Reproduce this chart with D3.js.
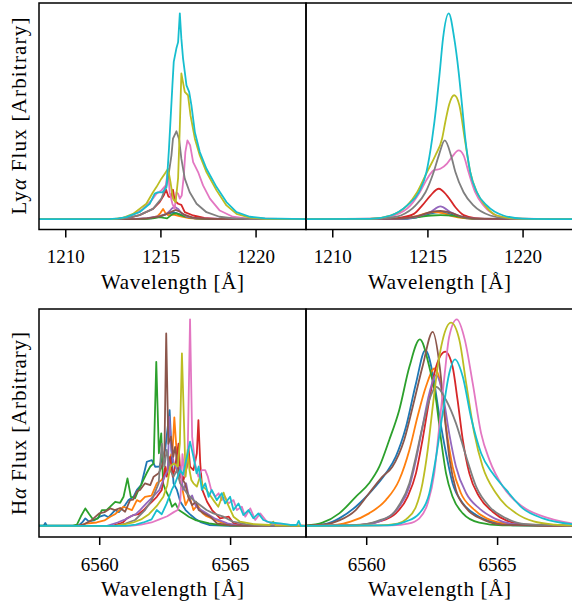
<!DOCTYPE html>
<html>
<head>
<meta charset="utf-8">
<script src="https://cdn.jsdelivr.net/npm/d3@7"></script>
<style>
  html, body { margin: 0; padding: 0; background: #fff; }
  svg { display: block; }
  svg text { font-family: "Liberation Serif", "DejaVu Serif", "Times New Roman", serif !important; fill: #000; }
</style>
</head>
<body>
<svg id="chart" width="572" height="601"></svg>
<script>
// ---------------- DATA ----------------
const seriesColors = ["#1f77b4","#ff7f0e","#2ca02c","#d62728","#9467bd","#8c564b","#e377c2","#7f7f7f","#bcbd22","#17becf"];

const lyaTicks = [1210, 1215, 1220];
const lyaRange = [1208.62, 1222.65];
const haTicks = [6560, 6565];
const haRange = [6557.7, 6567.9];

// ---- Top-left: Ly-alpha (jagged) ----
const lyaA_blue   = [[1208.6,0],[1213.8,0],[1214.5,0.004],[1215.0,0.014],[1215.35,0.026],[1215.7,0.033],[1216.0,0.025],[1216.4,0.01],[1216.9,0.003],[1222.7,0]];
const lyaA_orange = [[1208.6,0],[1213.8,0],[1214.5,0.005],[1214.85,0.015],[1215.0,0.03],[1215.14,0.05],[1215.25,0.032],[1215.4,0.02],[1215.7,0.022],[1216.0,0.015],[1216.5,0.005],[1217.2,0.001],[1222.7,0]];
const lyaA_green  = [[1208.6,0],[1214.0,0],[1214.6,0.004],[1214.96,0.01],[1215.2,0.006],[1215.35,0.004],[1215.5,0.015],[1215.66,0.026],[1215.84,0.028],[1216.0,0.022],[1216.3,0.012],[1216.8,0.004],[1217.5,0.001],[1222.7,0]];
const lyaA_red    = [[1208.6,0],[1212.8,0],[1213.3,0.005],[1213.9,0.02],[1214.61,0.05],[1214.96,0.083],[1215.17,0.115],[1215.3,0.143],[1215.42,0.11],[1215.54,0.107],[1215.66,0.143],[1215.75,0.09],[1215.93,0.075],[1216.1,0.07],[1216.28,0.034],[1216.72,0.018],[1217.3,0.006],[1218.0,0.001],[1222.7,0]];
const lyaA_purple = [[1208.6,0],[1213.5,0],[1214.3,0.005],[1214.96,0.015],[1215.32,0.026],[1215.49,0.04],[1215.6,0.052],[1215.75,0.06],[1215.93,0.05],[1216.1,0.03],[1216.4,0.012],[1216.9,0.004],[1222.7,0]];
const lyaA_brown  = [[1208.6,0],[1213.6,0],[1214.3,0.004],[1214.9,0.012],[1215.3,0.025],[1215.55,0.035],[1215.8,0.045],[1216.0,0.038],[1216.25,0.022],[1216.7,0.008],[1217.4,0.002],[1222.7,0]];
const lyaA_pink   = [[1208.6,0],[1212.6,0],[1213.0,0.005],[1213.5,0.018],[1214.08,0.05],[1214.52,0.09],[1214.79,0.124],[1215.05,0.14],[1215.28,0.164],[1215.4,0.237],[1215.49,0.13],[1215.63,0.075],[1215.75,0.05],[1215.84,0.13],[1215.93,0.124],[1216.02,0.1],[1216.12,0.115],[1216.23,0.213],[1216.31,0.326],[1216.42,0.383],[1216.56,0.36],[1216.72,0.277],[1216.98,0.229],[1217.24,0.164],[1217.6,0.1],[1218.12,0.042],[1218.8,0.012],[1219.6,0.003],[1222.7,0]];
const lyaA_gray   = [[1208.6,0],[1212.8,0],[1213.3,0.006],[1213.9,0.02],[1214.61,0.05],[1215.05,0.1],[1215.32,0.164],[1215.45,0.229],[1215.58,0.31],[1215.66,0.391],[1215.84,0.427],[1215.98,0.39],[1216.1,0.294],[1216.28,0.197],[1216.54,0.131],[1216.9,0.075],[1217.42,0.034],[1218.1,0.012],[1219.0,0.003],[1222.7,0]];
const lyaA_olive  = [[1208.6,0],[1212.5,0],[1213.0,0.006],[1213.56,0.026],[1214.26,0.075],[1214.61,0.131],[1214.79,0.156],[1215.05,0.197],[1215.23,0.221],[1215.4,0.245],[1215.53,0.18],[1215.66,0.1],[1215.8,0.083],[1215.93,0.2],[1216.02,0.45],[1216.1,0.708],[1216.28,0.618],[1216.45,0.602],[1216.58,0.505],[1216.81,0.391],[1217.07,0.31],[1217.42,0.229],[1217.95,0.14],[1218.47,0.067],[1219.0,0.026],[1219.7,0.008],[1220.5,0.002],[1222.7,0]];
const lyaA_cyan   = [[1208.6,0],[1212.3,0],[1212.8,0.004],[1213.2,0.01],[1213.9,0.034],[1214.44,0.075],[1214.7,0.124],[1214.85,0.13],[1215.1,0.13],[1215.32,0.156],[1215.45,0.343],[1215.63,0.65],[1215.7,0.764],[1215.84,0.83],[1215.93,0.86],[1216.02,1.0],[1216.1,0.878],[1216.19,0.78],[1216.28,0.716],[1216.37,0.65],[1216.51,0.618],[1216.63,0.553],[1216.81,0.423],[1217.07,0.326],[1217.42,0.245],[1217.95,0.156],[1218.47,0.083],[1219.0,0.034],[1219.7,0.012],[1220.5,0.004],[1222.7,0]];

// ---- Top-right: Ly-alpha (smooth) ----
const lyaB_blue   = [[1208.6,0],[1213.5,0],[1214.4,0.008],[1215.0,0.024],[1215.6,0.035],[1216.1,0.027],[1216.7,0.01],[1217.4,0.002],[1222.7,0]];
const lyaB_orange = [[1208.6,0],[1213.5,0.003],[1214.3,0.012],[1214.9,0.028],[1215.33,0.035],[1215.8,0.03],[1216.3,0.015],[1216.9,0.005],[1218.0,0],[1222.7,0]];
const lyaB_green  = [[1208.6,0],[1213.5,0.003],[1214.5,0.01],[1215.2,0.018],[1215.7,0.02],[1216.3,0.017],[1216.9,0.008],[1217.8,0.002],[1222.7,0]];
const lyaB_red    = [[1208.6,0],[1213.0,0.002],[1213.6,0.008],[1214.29,0.026],[1214.73,0.067],[1215.16,0.115],[1215.6,0.148],[1216.03,0.115],[1216.47,0.058],[1216.9,0.02],[1217.5,0.005],[1218.5,0],[1222.7,0]];
const lyaB_purple = [[1208.6,0],[1213.6,0.002],[1214.46,0.013],[1215.16,0.035],[1215.68,0.062],[1216.2,0.035],[1216.8,0.012],[1217.5,0.003],[1222.7,0]];
const lyaB_brown  = [[1208.6,0],[1213.5,0.003],[1214.5,0.015],[1215.2,0.035],[1215.68,0.04],[1216.2,0.032],[1216.8,0.012],[1217.5,0.003],[1222.7,0]];
const lyaB_pink   = [[1208.6,0],[1212.3,0.003],[1213.25,0.018],[1214.11,0.067],[1214.6,0.131],[1214.99,0.197],[1215.33,0.237],[1215.68,0.245],[1216.03,0.27],[1216.29,0.302],[1216.64,0.334],[1216.9,0.31],[1217.16,0.229],[1217.51,0.131],[1217.95,0.067],[1218.64,0.018],[1219.5,0.004],[1222.7,0]];
const lyaB_gray   = [[1208.6,0],[1212.5,0.003],[1213.0,0.007],[1213.6,0.018],[1214.38,0.067],[1214.9,0.131],[1215.33,0.229],[1215.6,0.31],[1215.91,0.383],[1216.24,0.31],[1216.47,0.229],[1216.9,0.131],[1217.42,0.067],[1218.3,0.018],[1219.2,0.004],[1222.7,0]];
const lyaB_olive  = [[1208.6,0],[1212.0,0.002],[1213.07,0.018],[1213.94,0.067],[1214.46,0.131],[1214.98,0.229],[1215.42,0.31],[1215.77,0.391],[1215.94,0.472],[1216.15,0.56],[1216.41,0.602],[1216.68,0.553],[1216.96,0.391],[1217.25,0.229],[1217.6,0.131],[1218.03,0.067],[1218.64,0.018],[1219.8,0.003],[1222.7,0]];
const lyaB_cyan   = [[1208.6,0],[1212.0,0.002],[1213.07,0.018],[1213.94,0.067],[1214.55,0.131],[1214.95,0.229],[1215.25,0.391],[1215.47,0.553],[1215.65,0.716],[1215.82,0.878],[1216.12,1.0],[1216.41,0.878],[1216.64,0.716],[1216.82,0.553],[1216.99,0.391],[1217.25,0.229],[1217.6,0.131],[1218.12,0.067],[1218.99,0.018],[1220.0,0.003],[1222.7,0]];

// ---- Bottom-left: H-alpha (noisy) ----
const haA_blue   = [[6557.7,0.005],[6557.88,0.005],[6557.94,0.018],[6558.0,0.005],[6559.2,0.005],[6559.35,0.02],[6559.47,0.04],[6559.6,0.025],[6559.8,0.03],[6560.05,0.05],[6560.2,0.056],[6560.35,0.045],[6560.61,0.08],[6560.75,0.07],[6560.99,0.104],[6561.12,0.128],[6561.31,0.144],[6561.44,0.177],[6561.6,0.2],[6561.82,0.313],[6562.01,0.321],[6562.14,0.289],[6562.3,0.29],[6562.52,0.37],[6562.69,0.562],[6562.78,0.32],[6562.84,0.209],[6562.97,0.177],[6563.1,0.12],[6563.3,0.08],[6563.5,0.056],[6563.7,0.035],[6563.9,0.02],[6564.2,0.008],[6565.0,0.004],[6568,0.004]];
const haA_orange = [[6557.7,0.004],[6559.2,0.004],[6559.5,0.015],[6559.9,0.02],[6560.2,0.03],[6560.42,0.048],[6560.6,0.06],[6560.93,0.096],[6561.25,0.08],[6561.44,0.128],[6561.56,0.12],[6561.75,0.144],[6562.0,0.15],[6562.2,0.209],[6562.39,0.225],[6562.58,0.273],[6562.71,0.337],[6562.8,0.36],[6562.87,0.527],[6562.97,0.337],[6563.03,0.241],[6563.16,0.193],[6563.3,0.104],[6563.45,0.144],[6563.6,0.08],[6563.75,0.104],[6563.95,0.064],[6564.1,0.05],[6564.4,0.035],[6564.6,0.024],[6564.9,0.01],[6565.5,0.004],[6568,0.004]];
const haA_green  = [[6557.7,0.005],[6559.0,0.005],[6559.15,0.01],[6559.3,0.05],[6559.47,0.088],[6559.62,0.06],[6559.78,0.032],[6559.95,0.04],[6560.1,0.08],[6560.28,0.08],[6560.42,0.096],[6560.61,0.12],[6560.8,0.115],[6560.93,0.144],[6561.08,0.233],[6561.21,0.144],[6561.37,0.137],[6561.5,0.177],[6561.6,0.2],[6561.69,0.225],[6561.82,0.26],[6561.95,0.29],[6562.08,0.305],[6562.18,0.795],[6562.28,0.354],[6562.37,0.45],[6562.44,0.209],[6562.53,0.177],[6562.66,0.144],[6562.78,0.096],[6562.91,0.112],[6563.04,0.08],[6563.23,0.064],[6563.42,0.048],[6563.67,0.032],[6563.93,0.024],[6564.2,0.016],[6564.6,0.008],[6565.5,0.004],[6568,0.004]];
const haA_red    = [[6557.7,0.004],[6560.5,0.004],[6560.9,0.02],[6561.06,0.04],[6561.31,0.056],[6561.5,0.06],[6561.7,0.08],[6561.82,0.096],[6562.01,0.12],[6562.2,0.144],[6562.39,0.177],[6562.52,0.289],[6562.58,0.241],[6562.71,0.337],[6562.81,0.241],[6562.9,0.29],[6563.03,0.40],[6563.09,0.273],[6563.22,0.225],[6563.35,0.289],[6563.41,0.385],[6563.47,0.29],[6563.6,0.273],[6563.73,0.354],[6563.79,0.514],[6563.86,0.305],[6563.94,0.177],[6564.12,0.12],[6564.31,0.08],[6564.62,0.04],[6564.95,0.048],[6565.13,0.016],[6565.5,0.006],[6568,0.004]];
const haA_purple = [[6557.7,0.004],[6560.3,0.004],[6560.7,0.02],[6561.0,0.035],[6561.18,0.048],[6561.4,0.06],[6561.56,0.08],[6561.8,0.112],[6562.05,0.144],[6562.3,0.177],[6562.5,0.241],[6562.62,0.273],[6562.68,0.53],[6562.76,0.37],[6562.85,0.305],[6562.98,0.273],[6563.1,0.289],[6563.2,0.177],[6563.32,0.209],[6563.45,0.128],[6563.55,0.15],[6563.7,0.096],[6563.9,0.08],[6564.1,0.064],[6564.4,0.04],[6564.9,0.016],[6565.3,0.006],[6568,0.004]];
const haA_brown  = [[6557.7,0.004],[6559.1,0.004],[6559.4,0.01],[6559.7,0.03],[6560.0,0.064],[6560.2,0.07],[6560.42,0.088],[6560.6,0.08],[6560.8,0.09],[6560.99,0.072],[6561.18,0.128],[6561.3,0.13],[6561.44,0.17],[6561.56,0.177],[6561.75,0.209],[6561.95,0.2],[6562.08,0.241],[6562.27,0.257],[6562.39,0.289],[6562.49,0.337],[6562.56,0.932],[6562.64,0.40],[6562.74,0.434],[6562.83,0.337],[6562.9,0.385],[6563.0,0.289],[6563.09,0.241],[6563.28,0.209],[6563.4,0.144],[6563.55,0.104],[6563.7,0.12],[6563.8,0.08],[6564.0,0.064],[6564.24,0.048],[6564.5,0.016],[6565.0,0.006],[6568,0.004]];
const haA_pink   = [[6557.7,0.004],[6561.2,0.004],[6561.6,0.01],[6562.0,0.02],[6562.3,0.035],[6562.6,0.05],[6562.85,0.07],[6563.0,0.08],[6563.1,0.128],[6563.18,0.35],[6563.28,0.241],[6563.38,0.35],[6563.47,1.0],[6563.55,0.434],[6563.66,0.305],[6563.79,0.241],[6563.92,0.273],[6564.05,0.273],[6564.15,0.241],[6564.28,0.177],[6564.43,0.144],[6564.56,0.161],[6564.68,0.128],[6564.81,0.144],[6564.93,0.112],[6565.13,0.128],[6565.26,0.08],[6565.45,0.096],[6565.58,0.048],[6565.77,0.088],[6565.96,0.032],[6566.15,0.064],[6566.4,0.024],[6566.85,0.012],[6567.3,0.008],[6568,0.004]];
const haA_gray   = [[6557.7,0.004],[6560.6,0.004],[6561.0,0.015],[6561.37,0.032],[6561.75,0.08],[6562.01,0.128],[6562.27,0.209],[6562.39,0.40],[6562.49,0.289],[6562.58,0.37],[6562.71,0.273],[6562.84,0.241],[6562.97,0.273],[6563.09,0.209],[6563.35,0.161],[6563.6,0.128],[6563.85,0.104],[6564.1,0.08],[6564.36,0.064],[6564.75,0.048],[6565.1,0.024],[6565.6,0.012],[6566.2,0.005],[6568,0.004]];
const haA_olive  = [[6557.7,0.004],[6560.6,0.004],[6561.0,0.012],[6561.3,0.02],[6561.6,0.035],[6561.9,0.06],[6562.2,0.1],[6562.45,0.144],[6562.6,0.2],[6562.71,0.289],[6562.85,0.305],[6563.0,0.29],[6563.08,0.4],[6563.16,0.836],[6563.24,0.498],[6563.3,0.241],[6563.38,0.37],[6563.45,0.273],[6563.52,0.225],[6563.6,0.209],[6563.73,0.193],[6563.85,0.241],[6563.97,0.193],[6564.1,0.177],[6564.36,0.128],[6564.55,0.096],[6564.75,0.164],[6564.87,0.12],[6565.13,0.048],[6565.38,0.024],[6565.9,0.012],[6566.5,0.008],[6566.65,0.024],[6566.75,0.006],[6568,0.004]];
const haA_cyan   = [[6557.7,0.004],[6561.0,0.004],[6561.4,0.01],[6561.69,0.02],[6562.0,0.035],[6562.2,0.08],[6562.39,0.06],[6562.58,0.112],[6562.77,0.177],[6562.9,0.209],[6563.09,0.273],[6563.2,0.25],[6563.35,0.337],[6563.47,0.41],[6563.6,0.337],[6563.72,0.257],[6563.8,0.29],[6563.92,0.177],[6564.05,0.209],[6564.18,0.144],[6564.3,0.177],[6564.49,0.128],[6564.68,0.161],[6564.81,0.112],[6565.0,0.144],[6565.13,0.08],[6565.32,0.112],[6565.51,0.056],[6565.7,0.08],[6565.89,0.04],[6566.08,0.064],[6566.27,0.032],[6566.53,0.02],[6566.91,0.016],[6567.3,0.008],[6567.55,0.008],[6567.62,0.028],[6567.7,0.004],[6568,0.004]];

// ---- Bottom-right: H-alpha (smooth) ----
const haB_blue   = [[6557.7,0.005],[6558.5,0.015],[6558.97,0.04],[6559.6,0.096],[6560.24,0.177],[6560.75,0.257],[6561.13,0.338],[6561.52,0.482],[6561.9,0.691],[6562.26,0.852],[6562.54,0.739],[6562.8,0.53],[6563.05,0.354],[6563.3,0.209],[6563.69,0.113],[6564.2,0.056],[6564.9,0.02],[6565.8,0.006],[6567.9,0.004]];
const haB_orange = [[6557.7,0.004],[6558.9,0.01],[6559.4,0.024],[6560.11,0.064],[6560.75,0.128],[6561.26,0.225],[6561.65,0.37],[6561.96,0.53],[6562.28,0.675],[6562.61,0.763],[6562.86,0.675],[6563.05,0.482],[6563.3,0.289],[6563.62,0.161],[6564.07,0.088],[6564.6,0.04],[6565.5,0.013],[6567.9,0.004]];
const haB_green  = [[6557.7,0.005],[6558.33,0.019],[6558.97,0.064],[6559.6,0.144],[6560.11,0.209],[6560.5,0.289],[6560.88,0.418],[6561.26,0.562],[6561.65,0.771],[6562.05,0.903],[6562.41,0.771],[6562.67,0.611],[6562.86,0.418],[6563.05,0.257],[6563.3,0.144],[6563.69,0.064],[6564.32,0.019],[6565.2,0.006],[6567.9,0.004]];
const haB_red    = [[6557.7,0.004],[6559.5,0.006],[6560.5,0.025],[6561.13,0.064],[6561.58,0.144],[6561.9,0.257],[6562.15,0.418],[6562.41,0.611],[6562.67,0.771],[6563.02,0.844],[6563.3,0.771],[6563.49,0.611],[6563.69,0.418],[6563.94,0.257],[6564.32,0.144],[6564.83,0.072],[6565.35,0.03],[6566.2,0.008],[6567.9,0.004]];
const haB_purple = [[6557.7,0.004],[6559.8,0.008],[6560.5,0.025],[6561.0,0.06],[6561.26,0.096],[6561.65,0.193],[6561.9,0.321],[6562.15,0.482],[6562.41,0.643],[6562.67,0.731],[6562.92,0.643],[6563.17,0.45],[6563.43,0.289],[6563.82,0.161],[6564.32,0.088],[6564.9,0.04],[6565.7,0.012],[6567.9,0.004]];
const haB_brown  = [[6557.7,0.005],[6558.5,0.012],[6558.97,0.03],[6559.6,0.08],[6560.11,0.161],[6560.62,0.241],[6561.0,0.289],[6561.45,0.418],[6561.84,0.611],[6562.15,0.771],[6562.54,0.94],[6562.81,0.771],[6563.0,0.53],[6563.19,0.321],[6563.43,0.177],[6563.83,0.088],[6564.45,0.035],[6565.2,0.01],[6567.9,0.004]];
const haB_pink   = [[6557.7,0.004],[6561.0,0.006],[6561.6,0.014],[6562.03,0.04],[6562.35,0.113],[6562.6,0.257],[6562.79,0.482],[6563.0,0.739],[6563.17,0.916],[6563.46,1.0],[6563.77,0.9],[6564.07,0.691],[6564.39,0.45],[6564.71,0.321],[6565.22,0.193],[6565.98,0.096],[6567.0,0.04],[6567.9,0.015]];
const haB_gray   = [[6557.7,0.004],[6559.8,0.01],[6560.5,0.03],[6561.0,0.06],[6561.26,0.104],[6561.65,0.209],[6561.9,0.338],[6562.15,0.482],[6562.41,0.611],[6562.67,0.675],[6563.05,0.611],[6563.43,0.498],[6563.82,0.337],[6564.2,0.193],[6564.71,0.096],[6565.35,0.04],[6566.1,0.012],[6567.9,0.004]];
const haB_olive  = [[6557.7,0.004],[6560.5,0.006],[6561.2,0.015],[6561.52,0.035],[6561.9,0.096],[6562.15,0.209],[6562.35,0.37],[6562.54,0.578],[6562.73,0.771],[6562.92,0.9],[6563.24,0.984],[6563.56,0.9],[6563.82,0.691],[6564.13,0.45],[6564.45,0.289],[6564.96,0.161],[6565.73,0.064],[6566.4,0.025],[6567.2,0.01],[6567.9,0.006]];
const haB_cyan   = [[6557.7,0.004],[6560.8,0.006],[6561.52,0.025],[6562.03,0.064],[6562.41,0.16],[6562.67,0.337],[6562.92,0.546],[6563.17,0.739],[6563.39,0.807],[6563.69,0.723],[6564.0,0.53],[6564.39,0.354],[6564.83,0.257],[6565.35,0.177],[6565.98,0.088],[6566.75,0.04],[6567.9,0.012]];

const lyaObserved = [lyaA_blue, lyaA_orange, lyaA_green, lyaA_red, lyaA_purple, lyaA_brown, lyaA_pink, lyaA_gray, lyaA_olive, lyaA_cyan];
const lyaModel    = [lyaB_blue, lyaB_orange, lyaB_green, lyaB_red, lyaB_purple, lyaB_brown, lyaB_pink, lyaB_gray, lyaB_olive, lyaB_cyan];
const haObserved  = [haA_blue, haA_orange, haA_green, haA_red, haA_purple, haA_brown, haA_pink, haA_gray, haA_olive, haA_cyan];
const haModel     = [haB_blue, haB_orange, haB_green, haB_red, haB_purple, haB_brown, haB_pink, haB_gray, haB_olive, haB_cyan];

// ---------------- DRAWING ----------------
const svg = d3.select("#chart");
const PW = 267;
const TOP = {y: 3, h: 226.5};
const BOT = {y: 309, h: 228};

function drawPanel(id, x0, row, xDomain, ticks, seriesList, curve) {
  const x = d3.scaleLinear().domain(xDomain).range([x0, x0 + PW]);
  const y = d3.scaleLinear().domain([-0.05, 1.05]).range([row.y + row.h, row.y]);
  svg.append("clipPath").attr("id", id)
    .append("rect").attr("x", x0).attr("y", row.y).attr("width", PW).attr("height", row.h);
  const line = d3.line().x(d => x(d[0])).y(d => y(d[1])).curve(curve);
  const g = svg.append("g").attr("clip-path", `url(#${id})`);
  seriesList.forEach((s, i) => {
    g.append("path").attr("d", line(s)).attr("fill", "none")
      .attr("stroke", seriesColors[i]).attr("stroke-width", 1.8)
      .attr("stroke-linejoin", "round").attr("stroke-linecap", "round");
  });
  const ax = svg.append("g").attr("transform", `translate(0,${row.y + row.h})`)
    .call(d3.axisBottom(x).tickValues(ticks).tickSize(8).tickFormat(d3.format("d")));
  ax.attr("font-family", null).attr("font-size", null);
  ax.select(".domain").remove();
  ax.selectAll(".tick line").attr("stroke", "#000").attr("stroke-width", 1.5);
  ax.selectAll(".tick text").attr("y", 33.5).attr("dy", null)
    .style("font-size", "19px").attr("fill", "#000");
  svg.append("rect").attr("x", x0).attr("y", row.y).attr("width", PW).attr("height", row.h)
    .attr("fill", "none").attr("stroke", "#000").attr("stroke-width", 1.5);
  svg.append("text").attr("x", x0 + PW / 2).attr("y", row.y + row.h + 59)
    .attr("text-anchor", "middle").style("font-size", "21px")
    .attr("textLength", 143).attr("lengthAdjust", "spacing")
    .text("Wavelength [Å]");
}

drawPanel("cTL", 39, TOP, lyaRange, lyaTicks, lyaObserved, d3.curveLinear);
drawPanel("cTR", 306, TOP, lyaRange, lyaTicks, lyaModel, d3.curveMonotoneX);
drawPanel("cBL", 39, BOT, haRange, haTicks, haObserved, d3.curveLinear);
drawPanel("cBR", 306, BOT, haRange, haTicks, haModel, d3.curveMonotoneX);

function yLabel(cy, prefix, len) {
  const t = svg.append("text")
    .attr("transform", `translate(26,${cy}) rotate(-90)`)
    .attr("text-anchor", "middle").style("font-size", "21px")
    .attr("textLength", len).attr("lengthAdjust", "spacing");
  t.append("tspan").text(prefix);
  t.append("tspan").attr("font-style", "italic").text("α");
  t.append("tspan").text(" Flux [Arbitrary]");
}
yLabel(116, "Ly", 197);
yLabel(423.5, "H", 183);
</script>
</body>
</html>
